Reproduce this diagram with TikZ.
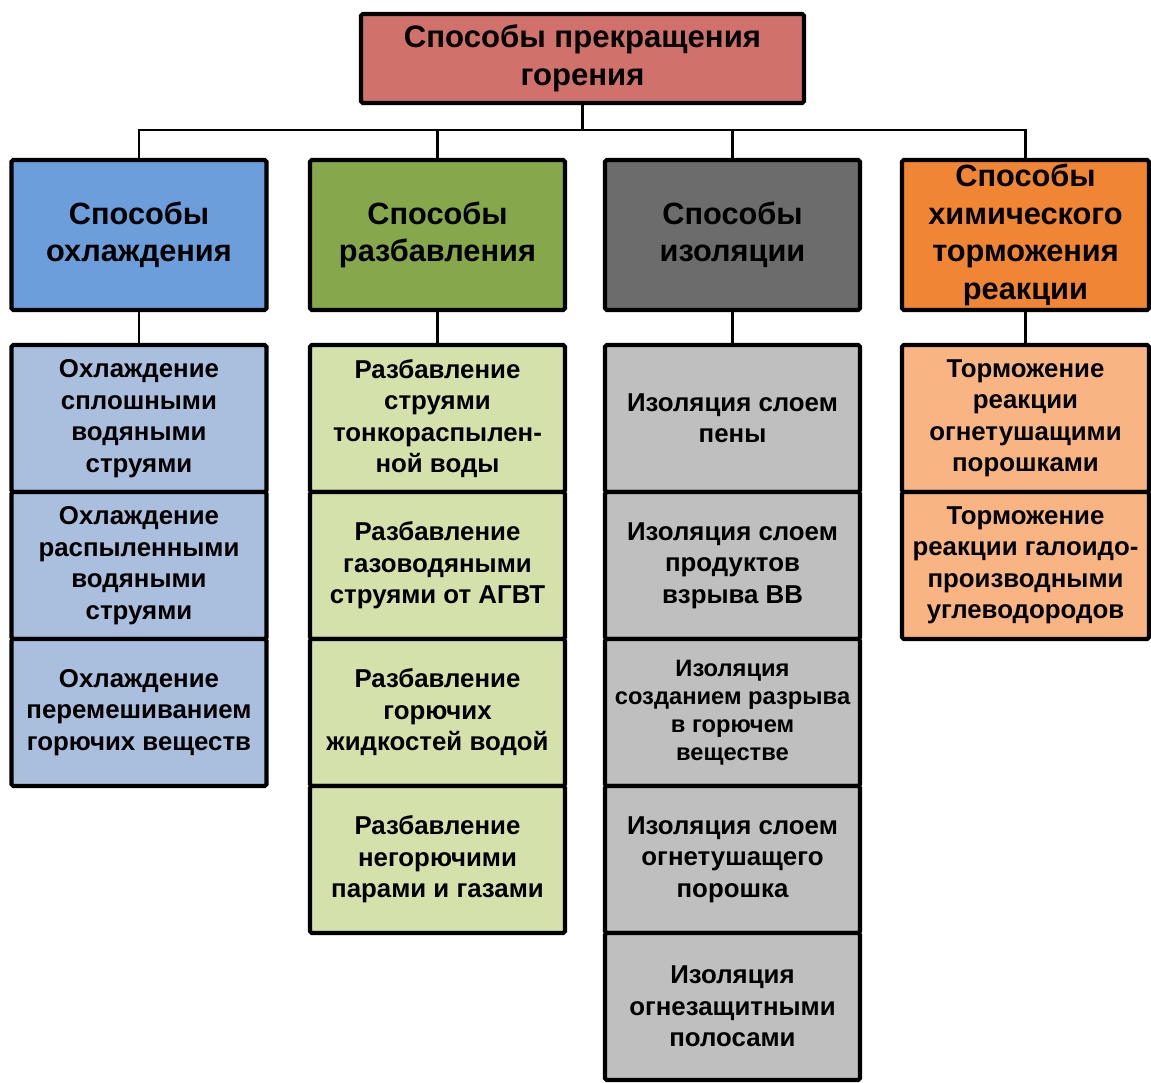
\documentclass[tikz,border=0pt]{standalone}
\usepackage{fontspec}
\setmainfont{Liberation Sans}
\usepackage{xcolor}
\usepackage{tikz}
\usetikzlibrary{positioning}
\definecolor{rootred}{RGB}{209,113,107}
\definecolor{coolblue}{RGB}{108,158,219}
\definecolor{dilgreen}{RGB}{134,168,74}
\definecolor{isogray}{RGB}{108,108,108}
\definecolor{chemorange}{RGB}{240,133,52}
\definecolor{coollight}{RGB}{170,190,221}
\definecolor{dillight}{RGB}{212,225,171}
\definecolor{isolight}{RGB}{191,191,191}
\definecolor{chemlight}{RGB}{248,181,131}
\tikzset{
  box/.style={
    draw=black, line width=2.4pt, rounded corners=1pt,
    outer sep=0pt, align=center
  },
  root/.style={box, fill=rootred, minimum width=8.86cm, minimum height=1.78cm,
    font=\bfseries\fontsize{17.7}{21.3}\selectfont},
  branch/.style={box, minimum width=5.1cm, minimum height=3cm, inner sep=0pt,
    font=\bfseries\fontsize{17.5}{21.3}\selectfont},
  leaf/.style={box, minimum width=5.1cm, minimum height=2.94cm, inner sep=1pt,
    font=\bfseries\fontsize{14.7}{17.9}\selectfont},
  small leaf/.style={leaf, font=\bfseries\fontsize{13.5}{16}\selectfont},
  link/.style={draw=black, line width=1.2pt},
}

\begin{document}
\begin{tikzpicture}
  \useasboundingbox (0,0) rectangle (23.02,-21.66);

  \node[root] (top) at (11.65,-1.17) {Способы прекращения\\горения};

  \node[branch, fill=coolblue] (cool) at (2.78,-4.7) {Способы\\охлаждения};
  \node[branch, fill=dilgreen] (dil) at (8.75,-4.7) {Способы\\разбавления};
  \node[branch, fill=isogray] (iso) at (14.65,-4.7) {Способы\\изоляции};
  \node[branch, fill=chemorange, minimum width=4.94cm] (chem) at (20.51,-4.7)
    {Способы\\химического\\торможения\\реакции};

  \node[leaf, fill=coollight, below=0.7cm of cool] (cool1)
    {Охлаждение\\сплошными\\водяными\\струями};
  \node[leaf, fill=coollight, below=0pt of cool1] (cool2)
    {Охлаждение\\распыленными\\водяными\\струями};
  \node[leaf, fill=coollight, below=0pt of cool2] (cool3)
    {Охлаждение\\перемешиванием\\горючих веществ};

  \node[leaf, fill=dillight, below=0.7cm of dil] (dil1)
    {Разбавление\\струями\\тонкораспылен-\\ной воды};
  \node[leaf, fill=dillight, below=0pt of dil1] (dil2)
    {Разбавление\\газоводяными\\струями от АГВТ};
  \node[leaf, fill=dillight, below=0pt of dil2] (dil3)
    {Разбавление\\горючих\\жидкостей водой};
  \node[leaf, fill=dillight, below=0pt of dil3] (dil4)
    {Разбавление\\негорючими\\парами и газами};

  \node[leaf, fill=isolight, below=0.7cm of iso] (iso1)
    {Изоляция слоем\\пены};
  \node[leaf, fill=isolight, below=0pt of iso1] (iso2)
    {Изоляция слоем\\продуктов\\взрыва ВВ};
  \node[small leaf, fill=isolight, below=0pt of iso2] (iso3)
    {Изоляция\\созданием разрыва\\в горючем\\веществе};
  \node[leaf, fill=isolight, below=0pt of iso3] (iso4)
    {Изоляция слоем\\огнетушащего\\порошка};
  \node[leaf, fill=isolight, below=0pt of iso4] (iso5)
    {Изоляция\\огнезащитными\\полосами};

  \node[leaf, fill=chemlight, minimum width=4.94cm, below=0.7cm of chem] (chem1)
    {Торможение\\реакции\\огнетушащими\\порошками};
  \node[leaf, fill=chemlight, minimum width=4.94cm, below=0pt of chem1] (chem2)
    {Торможение\\реакции галоидо-\\производными\\углеводородов};

  \draw[link] (top.south) -- ++(0,-0.54) coordinate (bus);
  \foreach \g in {cool,dil,iso,chem}
    \draw[link] (bus) -| (\g.north);
  \foreach \g in {cool,dil,iso,chem}
    \draw[link] (\g.south) -- (\g1.north);
\end{tikzpicture}
\end{document}
